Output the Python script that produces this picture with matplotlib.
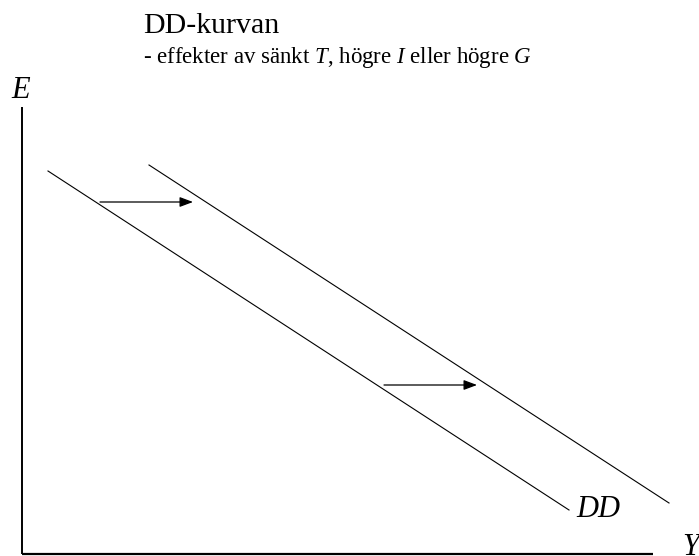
import matplotlib
matplotlib.use("Agg")
import matplotlib.pyplot as plt

plt.rcParams["font.family"] = ["Liberation Serif", "DejaVu Serif"]
plt.rcParams["mathtext.fontset"] = "custom"
plt.rcParams["mathtext.rm"] = "Liberation Serif"
plt.rcParams["mathtext.it"] = "Liberation Serif:italic"

W, H = 699, 556

# Schematic curves (x = output Y, y = exchange rate E), origin at the axes corner
dd_before_x = [26, 547]
dd_before_y = [383, 44]
dd_after_x = [127, 647]
dd_after_y = [389, 51]

# Rightward shift arrows: (x start, x end, y level)
shift_arrows = [(78, 171, 352), (362, 455, 169)]

title = "DD-kurvan"
subtitle = "- effekter av sänkt $T$, högre $I$ eller högre $G$"
x_label = "Y"
y_label = "E"
curve_label = "DD"

fig = plt.figure(figsize=(W / 100, H / 100), dpi=100)
ax = fig.add_axes([0, 0, 1, 1])
ax.set_xlim(-22, W - 22)
ax.set_ylim(-2, H - 2)
ax.set_axis_off()

# Axes lines
ax.plot([0, 0], [0, 447], color="black", lw=1.4, solid_capstyle="butt")
ax.plot([0, 631], [0, 0], color="black", lw=1.6, solid_capstyle="butt")

ax.plot(dd_before_x, dd_before_y, color="black", lw=0.8)
ax.plot(dd_after_x, dd_after_y, color="black", lw=0.8)

for x0, x1, y in shift_arrows:
    ax.annotate("", xy=(x1, y), xytext=(x0, y),
                arrowprops=dict(arrowstyle="-|>,head_length=0.8,head_width=0.3",
                                color="black", lw=0.9, shrinkA=0, shrinkB=0))


def px(x, y):
    return x / W, 1 - y / H


fig.text(*px(143, 33), title, fontsize=21.5, va="baseline", ha="left")
fig.text(*px(143, 63), subtitle, fontsize=16.5, va="baseline", ha="left")
fig.text(*px(11, 98), y_label, fontsize=22, style="italic", va="baseline", ha="left")
fig.text(*px(576, 517), curve_label, fontsize=22, style="italic", va="baseline", ha="left")
fig.text(*px(682, 555), x_label, fontsize=22, style="italic", va="baseline", ha="left")

fig.savefig("out.png", dpi=100)
